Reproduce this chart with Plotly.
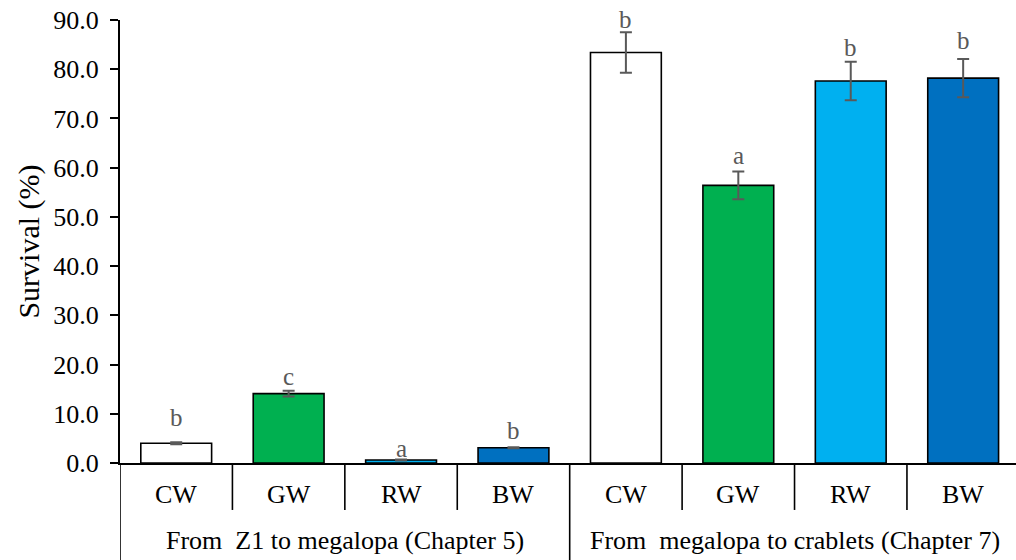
import plotly.graph_objects as go

# Survival data (%), mean and SD for each water-colour treatment
treatments = ["CW", "GW", "RW", "BW"]
stages = ["From  Z1 to megalopa (Chapter 5)", "From  megalopa to crablets (Chapter 7)"]
survival_ch5 = [4.0, 14.1, 0.6, 3.1]
sd_ch5 = [0.2, 0.6, 0.1, 0.1]
survival_ch7 = [83.4, 56.4, 77.6, 78.2]
sd_ch7 = [4.1, 2.8, 3.9, 3.9]
letters_ch5 = ["b", "c", "a", "b"]
letters_ch7 = ["b", "a", "b", "b"]
y_ticks = [0, 10, 20, 30, 40, 50, 60, 70, 80, 90]

# Styling / layout
FONT = "Liberation Serif"
bar_colors = ["#FFFFFF", "#00B050", "#00B0F0", "#0070C0"]
letter_lift_ch5 = [25, 14, 11, 17]   # px above error-bar top
letter_lift_ch7 = [13, 16, 14, 18]
W, H = 1016, 560
ML = 100          # left margin (px)
PLOT_LEFT = 120   # px where the y-axis line sits
LABEL_GAP = 8     # extra px between tick labels and ticks
paper_w = W - ML
x_domain_start = (PLOT_LEFT - ML) / paper_w
label_axis_pos = (PLOT_LEFT - LABEL_GAP - ML) / paper_w

values = survival_ch5 + survival_ch7
errors = sd_ch5 + sd_ch7
letters = letters_ch5 + letters_ch7
lifts = letter_lift_ch5 + letter_lift_ch7
n = len(treatments)
xpos = list(range(len(values)))
colors = bar_colors * len(stages)

fig = go.Figure()
fig.add_trace(go.Bar(
    x=xpos, y=values, width=0.63,
    marker=dict(color=colors, line=dict(color="black", width=1.6)),
    error_y=dict(type="data", array=errors, visible=True,
                 color="#595959", thickness=2, width=6),
    hoverinfo="skip",
))
# transparent companion trace so the label axis (y2) is rendered
fig.add_trace(go.Scatter(
    x=xpos, y=values, yaxis="y2", mode="markers",
    marker=dict(opacity=0), hoverinfo="skip",
))

annotations = []
# significance letters
for x, v, e, t, lift in zip(xpos, values, errors, letters, lifts):
    annotations.append(dict(x=x, y=v + e, xref="x", yref="y", text=t,
                            showarrow=False, yanchor="middle", yshift=lift,
                            font=dict(family=FONT, size=25, color="#595959")))
# treatment labels and stage labels
for g in range(len(stages)):
    for i, t in enumerate(treatments):
        annotations.append(dict(x=g * n + i, y=-0.07, xref="x", yref="paper",
                                text=t, showarrow=False, yanchor="middle",
                                font=dict(family=FONT, size=26, color="black")))
    annotations.append(dict(x=g * n + (n - 1) / 2, y=-0.176, xref="x",
                            yref="paper", text=stages[g], showarrow=False,
                            yanchor="middle",
                            font=dict(family=FONT, size=26, color="black")))

# category separators below the axis
shapes = []
for b in range(len(values) + 1):
    bx = b - 0.5
    bottom = -0.219 if b % n == 0 else -0.106
    shapes.append(dict(type="line", xref="x", yref="paper", x0=bx, x1=bx,
                       y0=0, y1=bottom, line=dict(color="black", width=1.6)))

fig.update_layout(
    width=W, height=H,
    margin=dict(l=ML, r=0, t=20, b=97),
    paper_bgcolor="white", plot_bgcolor="white",
    showlegend=False,
    font=dict(family=FONT, color="black"),
    annotations=annotations, shapes=shapes,
    xaxis=dict(domain=[x_domain_start, 1], range=[-0.5, 7.47],
               showticklabels=False, ticks="",
               showgrid=False, zeroline=False, showline=True,
               linecolor="black", linewidth=2, fixedrange=True),
    # axis line and tick marks
    yaxis=dict(range=[0, 90], tickvals=y_ticks, showticklabels=False,
               ticks="outside", ticklen=8, tickwidth=1.5, tickcolor="black",
               showgrid=False, zeroline=False, showline=True,
               linecolor="black", linewidth=1.5, fixedrange=True),
    # tick labels and title
    yaxis2=dict(range=[0, 90], tickvals=y_ticks, tickformat=".1f",
                overlaying="y", anchor="free", position=label_axis_pos,
                side="left", ticks="outside", ticklen=8,
                tickcolor="rgba(0,0,0,0)", showline=False, showgrid=False,
                zeroline=False,
                tickfont=dict(family=FONT, size=26, color="black"),
                title=dict(text="Survival (%)", standoff=3,
                           font=dict(family=FONT, size=30, color="black")),
                fixedrange=True),
)

fig.write_html("out.html")
